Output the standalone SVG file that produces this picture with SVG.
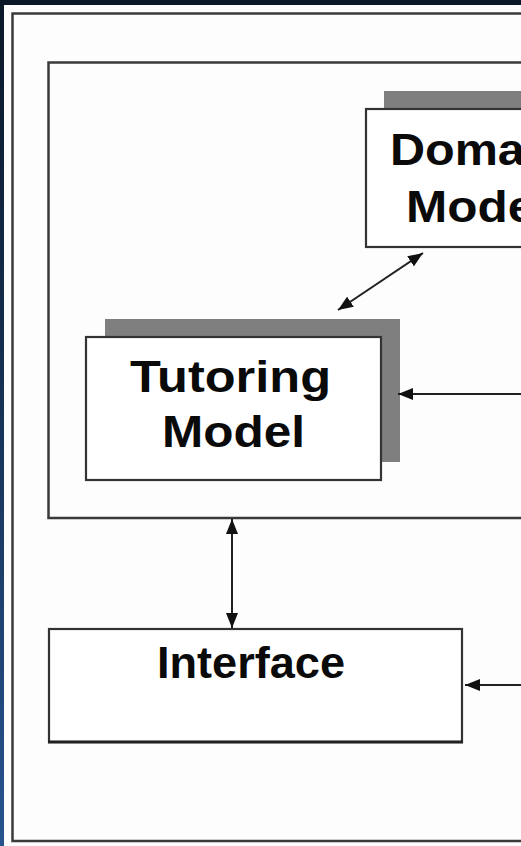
<svg xmlns="http://www.w3.org/2000/svg" width="521" height="846" viewBox="0 0 521 846">
<defs>
<linearGradient id="bg" x1="0" y1="0" x2="0" y2="1">
<stop offset="0" stop-color="#0b1828"/>
<stop offset="0.4" stop-color="#142d4e"/>
<stop offset="1" stop-color="#27548f"/>
</linearGradient>
<marker id="ah" viewBox="0 0 15 12" refX="15" refY="6" markerWidth="15" markerHeight="12" markerUnits="userSpaceOnUse" orient="auto-start-reverse">
<path d="M0,0 L15,6 L0,12 z" fill="#111"/>
</marker>
<style>
.frame{fill:none;stroke:#3a3a3a;stroke-width:2.5}
.box{fill:#fff;stroke:#333;stroke-width:2.2}
.shadow{fill:#7f7f7f}
.lbl{font-family:"Liberation Sans",Arial,sans-serif;font-weight:bold;font-size:44px;fill:#0a0a0a}
.conn{fill:none;stroke:#222;stroke-width:2}
</style>
</defs>
<rect x="0" y="0" width="521" height="846" fill="url(#bg)"/>
<rect x="4" y="5" width="517" height="841" fill="#fdfdfd"/>
<g id="outer-frame">
<rect class="frame" x="12.5" y="13.5" width="520" height="827.5"/>
</g>
<g id="inner-frame">
<rect class="frame" x="48.5" y="62.5" width="490" height="455.5"/>
</g>
<g id="domain-model">
<rect class="shadow" x="384" y="91" width="160" height="20"/>
<rect class="box" x="366" y="109" width="180" height="138"/>
<text class="lbl" x="390" y="165" textLength="178" lengthAdjust="spacingAndGlyphs">Domain</text>
<text class="lbl" x="406" y="222" textLength="143" lengthAdjust="spacingAndGlyphs">Model</text>
</g>
<g id="tutoring-model">
<rect class="shadow" x="105" y="319" width="295" height="143"/>
<rect class="box" x="86" y="337" width="295" height="143"/>
<text class="lbl" x="130" y="392" textLength="201" lengthAdjust="spacingAndGlyphs">Tutoring</text>
<text class="lbl" x="162" y="447" textLength="143" lengthAdjust="spacingAndGlyphs">Model</text>
</g>
<g id="interface">
<rect class="box" x="49" y="629" width="413" height="113"/>
<line x1="48" y1="742" x2="463" y2="742" stroke="#222" stroke-width="3"/>
<text class="lbl" x="157" y="678" textLength="188" lengthAdjust="spacingAndGlyphs">Interface</text>
</g>
<g id="connectors">
<line class="conn" x1="338" y1="310" x2="423" y2="253" marker-start="url(#ah)" marker-end="url(#ah)"/>
<line class="conn" x1="521" y1="394" x2="398" y2="394" marker-end="url(#ah)"/>
<line class="conn" x1="232" y1="519" x2="232" y2="628" marker-start="url(#ah)" marker-end="url(#ah)"/>
<line class="conn" x1="521" y1="685" x2="465" y2="685" marker-end="url(#ah)"/>
</g>
</svg>
